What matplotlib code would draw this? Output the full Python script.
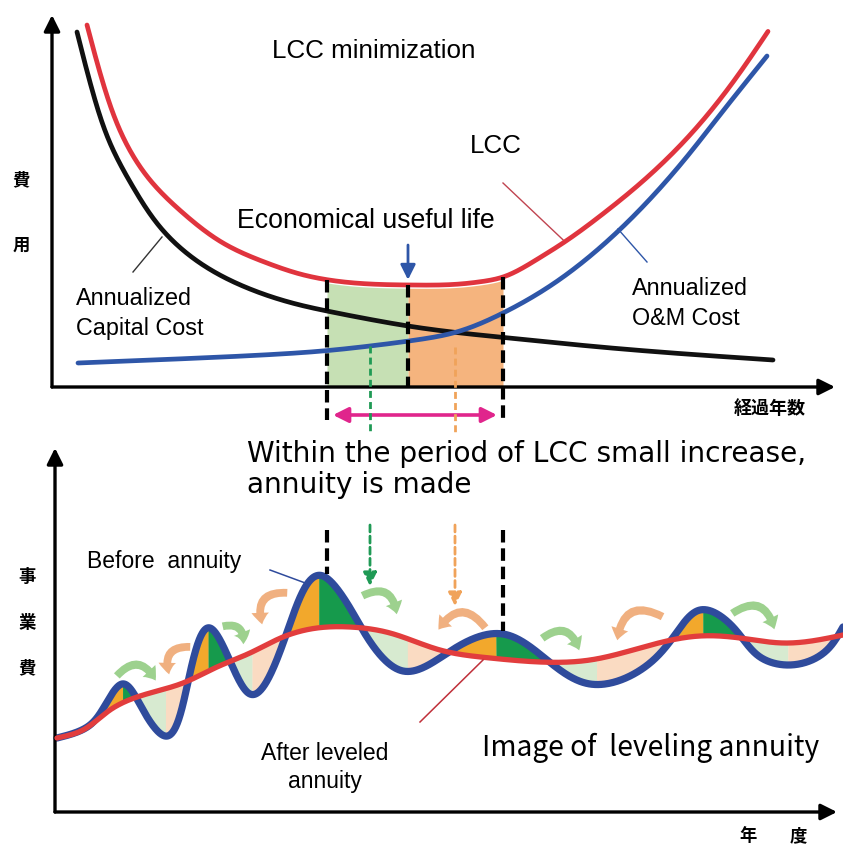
import numpy as np
import matplotlib
matplotlib.use("Agg")
import matplotlib.pyplot as plt
from matplotlib.patches import FancyArrowPatch

# ---------------- upper chart: annualized costs vs. elapsed years ----------------
cap_years = [2.5, 4.1, 5.8, 8.1, 10.8, 14.8, 19.8, 24.8, 27.5, 31.8, 35.6, 39.5, 45.1, 54.8, 64.8, 72.1]
cap_cost = [88.75, 73.5, 61.0, 50.0, 40.0, 31.0, 24.5, 20.5, 19.0, 16.9, 15.25, 13.9, 12.4, 10.0, 8.0, 6.75]

lcc_years = [3.5, 5.1, 7.1, 9.8, 13.1, 17.1, 21.5, 24.8, 28.1, 31.8, 35.8, 40.8, 42.8, 45.1, 46.8,
             48.5, 51.1, 55.1, 58.5, 63.5, 68.5, 71.6]
lcc_cost = [90.5, 76.0, 62.5, 51.75, 43.5, 36.0, 31.0, 28.25, 26.6, 25.75, 25.5, 25.75, 26.3, 27.5, 29.4,
            31.9, 36.0, 43.3, 50.2, 62.2, 77.6, 88.9]

om_years = [2.6, 14.8, 21.8, 27.5, 31.8, 36.8, 40.1, 45.1, 50.1, 53.5, 56.8, 60.1, 63.5, 66.8, 71.5]
om_cost = [6.0, 7.25, 8.1, 9.1, 10.25, 11.9, 13.5, 18.5, 25.75, 32.1, 39.4, 47.8, 57.6, 68.05, 82.75]

period_start, useful_life, period_end = 27.5, 35.6, 45.1
green_year, orange_year = 31.8, 40.3

# ---------------- lower chart: yearly project cost before / after leveling ----------------
fy_before = [0.5, 3.8, 5.5, 7.0, 9.1, 11.3, 13.6, 15.8, 17.8, 19.8, 23.4, 27.1, 29.3, 31.5, 35.1,
             40.5, 45.1, 49.5, 53.8, 59.8, 62.5, 64.8, 68.1, 70.8, 73.5, 77.5, 79.1]
cost_before = [18.5, 21.75, 27.5, 32.0, 25.5, 19.0, 32.5, 46.0, 37.75, 29.5, 44.25, 59.0, 53.0, 43.75, 35.25,
               41.25, 44.5, 38.0, 32.0, 37.25, 45.0, 50.5, 46.25, 38.75, 36.75, 40.5, 46.25]

fy_after = [0.5, 3.1, 5.8, 9.8, 13.1, 16.5, 19.8, 23.1, 26.5, 29.8, 33.8, 38.8, 43.8, 48.8, 53.8,
            58.8, 64.8, 68.8, 73.1, 79.1]
cost_after = [18.5, 20.5, 25.5, 29.75, 32.25, 36.25, 39.75, 43.75, 46.0, 46.25, 44.75, 40.5, 38.5, 37.5, 38.0,
              41.0, 44.0, 43.5, 42.25, 44.25]

# budget shifted forward (green) and backward (orange): (from, to)
shift_fwd = [((6.3, 33.5), (10.5, 32.25)), ((16.8, 46.25), (19.1, 41.25)), ((30.8, 53.75), (34.5, 48.75)),
             ((48.8, 43.0), (52.8, 39.75)), ((67.8, 49.25), (72.3, 45.0))]
shift_back = [((14.1, 41.25), (11.8, 33.75)), ((23.8, 54.75), (21.1, 46.25)), ((43.5, 45.5), (38.5, 45.0)),
              ((61.3, 48.5), (56.5, 42.25))]

W, H = 843, 848
RED, BLUE, BLACK = "#e0343e", "#2e56a8", "#111111"
WAVE_BLUE, WAVE_RED = "#2f4b9c", "#e23d3d"
LIGHT_GREEN, LIGHT_ORANGE = "#c6e0b4", "#f5b47e"
DASH_GREEN, DASH_ORANGE = "#1f9a55", "#f0a35a"
MAGENTA = "#e0258c"
SANS = ["Liberation Sans", "DejaVu Sans"]
JP = ["Noto Sans CJK JP", "DejaVu Sans"]
WIDE = ["DejaVu Sans"]


def smooth(xs, ys, aspect=1.0, n=40):
    """Parametric natural cubic spline (chord-length parameter) through the points."""
    P = np.column_stack([np.asarray(xs, float) * aspect, np.asarray(ys, float)])
    h = np.linalg.norm(np.diff(P, axis=0), axis=1)
    t = np.concatenate([[0], np.cumsum(h)])
    m = len(P)
    A = np.zeros((m, m))
    A[0, 0] = A[-1, -1] = 1
    for i in range(1, m - 1):
        A[i, i - 1] = h[i - 1]
        A[i, i] = 2 * (h[i - 1] + h[i])
        A[i, i + 1] = h[i]
    out = []
    tt = np.concatenate([np.linspace(t[i], t[i + 1], n, endpoint=False) for i in range(m - 1)] + [[t[-1]]])
    idx = np.clip(np.searchsorted(t, tt, side="right") - 1, 0, m - 2)
    for k in range(2):
        y = P[:, k]
        rhs = np.zeros(m)
        rhs[1:-1] = 6 * ((y[2:] - y[1:-1]) / h[1:] - (y[1:-1] - y[:-2]) / h[:-1])
        M = np.linalg.solve(A, rhs)
        a = t[idx + 1] - tt
        b = tt - t[idx]
        hi = h[idx]
        v = (M[idx] * a ** 3 + M[idx + 1] * b ** 3) / (6 * hi) \
            + (y[idx] / hi - M[idx] * hi / 6) * a + (y[idx + 1] / hi - M[idx + 1] * hi / 6) * b
        out.append(v)
    return out[0] / aspect, out[1]


fig = plt.figure(figsize=(W / 100, H / 100), dpi=100)
fig.patch.set_facecolor("white")


def txt(px, py, s, **kw):
    kw.setdefault("va", "baseline")
    return fig.text(px / W, 1 - py / H, s, **kw)


def axis_arrow(ax, start, end):
    ax.annotate("", xy=end, xytext=start, annotation_clip=False,
                arrowprops=dict(arrowstyle="-|>,head_length=0.6,head_width=0.3", color="black",
                                lw=2.4, mutation_scale=16, shrinkA=0, shrinkB=0))


# ===================== upper chart =====================
ax1 = fig.add_axes([52 / W, 1 - 387 / H, (W - 52) / W, (387 - 15) / H])
ax1.set_xlim(0, 79.1)
ax1.set_ylim(0, 93)
ax1.axis("off")

xc, yc = smooth(cap_years, cap_cost, aspect=2.5)
xl, yl = smooth(lcc_years, lcc_cost, aspect=2.5)
xo, yo = smooth(om_years, om_cost, aspect=2.5)

g1 = np.linspace(period_start, useful_life, 200)
ax1.fill_between(g1, 0, np.interp(g1, xl, yl) - 0.8, color=LIGHT_GREEN, lw=0, zorder=1)
g2 = np.linspace(useful_life, period_end, 200)
ax1.fill_between(g2, 0, np.interp(g2, xl, yl) - 0.8, color=LIGHT_ORANGE, lw=0, zorder=1)

ax1.plot(xc, yc, color=BLACK, lw=3.4, solid_capstyle="round", zorder=3)
ax1.plot(xo, yo, color=BLUE, lw=3.4, solid_capstyle="round", zorder=3)
ax1.plot(xl, yl, color=RED, lw=3.4, solid_capstyle="round", zorder=4)

axis_arrow(ax1, (0, 0), (0, 93))
axis_arrow(ax1, (0, 0), (78.3, 0))

dash = (0, (3, 1.4))
for xv, bottom in [(period_start, -8.25), (useful_life, 0), (period_end, -8.25)]:
    ax1.plot([xv, xv], [np.interp(xv, xl, yl), bottom], color="black", lw=3, ls=dash,
             clip_on=False, zorder=5)

ax1.plot([green_year, green_year], [np.interp(green_year, xo, yo), -11.5], color=DASH_GREEN,
         lw=2, ls=(0, (2.5, 1.5)), clip_on=False, zorder=5)
ax1.plot([orange_year, orange_year], [10, -11.5], color=DASH_ORANGE, lw=2, ls=(0, (2.5, 1.5)),
         clip_on=False, zorder=5)

ax1.annotate("", xy=(useful_life, 26.8), xytext=(useful_life, 35.5),
             arrowprops=dict(arrowstyle="-|>,head_length=0.5,head_width=0.25", color=BLUE, lw=2,
                             mutation_scale=18, shrinkA=0, shrinkB=0), zorder=6)
ax1.annotate("", xy=(44.5, -7), xytext=(28.1, -7), annotation_clip=False,
             arrowprops=dict(arrowstyle="<|-|>,head_length=0.5,head_width=0.25", color=MAGENTA,
                             lw=2.6, mutation_scale=18, shrinkA=0, shrinkB=0))

# leader lines
ax1.plot([8.1, 11.0], [28.75, 37.5], color="#333333", lw=1.0)
ax1.plot([45.1, 51.1], [51.0, 36.8], color="#c04450", lw=1.0)
ax1.plot([56.6, 59.5], [39.5, 31.25], color=BLUE, lw=1.0)

# ===================== lower chart =====================
ax2 = fig.add_axes([52 / W, 1 - 812 / H, (W - 52) / W, (812 - 448) / H])
ax2.set_xlim(0, 79.1)
ax2.set_ylim(0, 91)
ax2.axis("off")

xb, yb = smooth(fy_before, cost_before, aspect=2.5, n=60)
xa, ya = smooth(fy_after, cost_after, aspect=2.5, n=60)
grid = np.linspace(fy_before[0], fy_before[-1], 4000)
before = np.interp(grid, xb, yb)
after = np.interp(grid, xa, ya)
rising = np.gradient(before) > 0
above = before >= after


def widen(m):
    m = m.copy()
    m[1:] |= m[:-1]
    m[:-1] |= m[1:]
    return m


fills = [
    (above & rising, "#f2a82c"),
    (above & ~rising, "#169a4c"),
    (~above & ~rising, "#d7ead0"),
    (~above & rising, "#fadbc2"),
]
for mask, col in fills:
    ax2.fill_between(grid, before, after, where=widen(mask), interpolate=True,
                     color=col, lw=0, zorder=1)

ax2.plot(xb, yb, color=WAVE_BLUE, lw=5.2, solid_capstyle="round", zorder=3)
ax2.plot(xa, ya, color=WAVE_RED, lw=3.8, solid_capstyle="round", zorder=4)

for (p, q) in shift_fwd:
    ax2.add_patch(FancyArrowPatch(p, q, connectionstyle="arc3,rad=-0.75",
                                  arrowstyle="simple,head_width=0.9,head_length=0.6,tail_width=0.4",
                                  mutation_scale=14, color="#8cc97a", alpha=0.85, lw=0, zorder=2))
for (p, q) in shift_back:
    ax2.add_patch(FancyArrowPatch(p, q, connectionstyle="arc3,rad=0.75",
                                  arrowstyle="simple,head_width=0.9,head_length=0.6,tail_width=0.4",
                                  mutation_scale=14, color="#eea36a", alpha=0.85, lw=0, zorder=2))

axis_arrow(ax2, (0.3, 0), (0.3, 91))
axis_arrow(ax2, (0.3, 0), (78.5, 0))

ax2.plot([period_start, period_start], [70.5, 59.5], color="black", lw=3, ls=dash, zorder=5)
ax2.plot([period_end, period_end], [70.5, 45.2], color="black", lw=3, ls=dash, zorder=5)
ax2.annotate("", xy=(green_year, 56.5), xytext=(green_year, 71.75),
             arrowprops=dict(arrowstyle="-|>,head_length=0.5,head_width=0.25", color=DASH_GREEN, lw=2,
                             ls=(0, (2.5, 1.5)), mutation_scale=16, shrinkA=0, shrinkB=0))
ax2.annotate("", xy=(orange_year, 51.5), xytext=(orange_year, 71.75),
             arrowprops=dict(arrowstyle="-|>,head_length=0.5,head_width=0.25", color=DASH_ORANGE, lw=2,
                             ls=(0, (2.5, 1.5)), mutation_scale=16, shrinkA=0, shrinkB=0))

ax2.plot([21.8, 25.6], [60.5, 57.0], color=WAVE_BLUE, lw=1.1, zorder=5)
ax2.plot([36.8, 43.1], [22.5, 38.0], color="#c0303a", lw=1.1, zorder=5)

# ===================== text =====================
txt(272, 58, "LCC minimization", fontsize=18.7, family=SANS)
txt(470, 153, "LCC", fontsize=18.7, family=SANS)
txt(237, 228, "Economical useful life", fontsize=19.2, family=SANS)
txt(76, 305, "Annualized", fontsize=16.8, family=SANS)
txt(76, 335, "Capital Cost", fontsize=16.8, family=SANS)
txt(632, 295, "Annualized", fontsize=16.8, family=SANS)
txt(632, 325, "O&M Cost", fontsize=16.8, family=SANS)

txt(247, 462, "Within the period of LCC small increase,", fontsize=20.2, family=WIDE)
txt(247, 493, "annuity is made", fontsize=20.2, family=WIDE)

txt(87, 568, "Before  annuity", fontsize=16.5, family=SANS)
txt(325, 760, "After leveled", fontsize=16.5, family=SANS, ha="center")
txt(325, 788, "annuity", fontsize=16.5, family=SANS, ha="center")
txt(482, 756, "Image of  leveling annuity", fontsize=20.3, family=JP)

for s, (px, py) in [("費", (21, 180)), ("用", (21, 246)), ("事", (27, 577)), ("業", (27, 623)),
                    ("費", (27, 668)), ("年", (748, 836)), ("度", (798, 836))]:
    txt(px, py, s, fontsize=12.5, family=JP, weight="bold", ha="center", va="center")
txt(770, 409, "経過年数", fontsize=13, family=JP, weight="bold", ha="center", va="center")

fig.savefig("out.png", dpi=100, facecolor="white")
